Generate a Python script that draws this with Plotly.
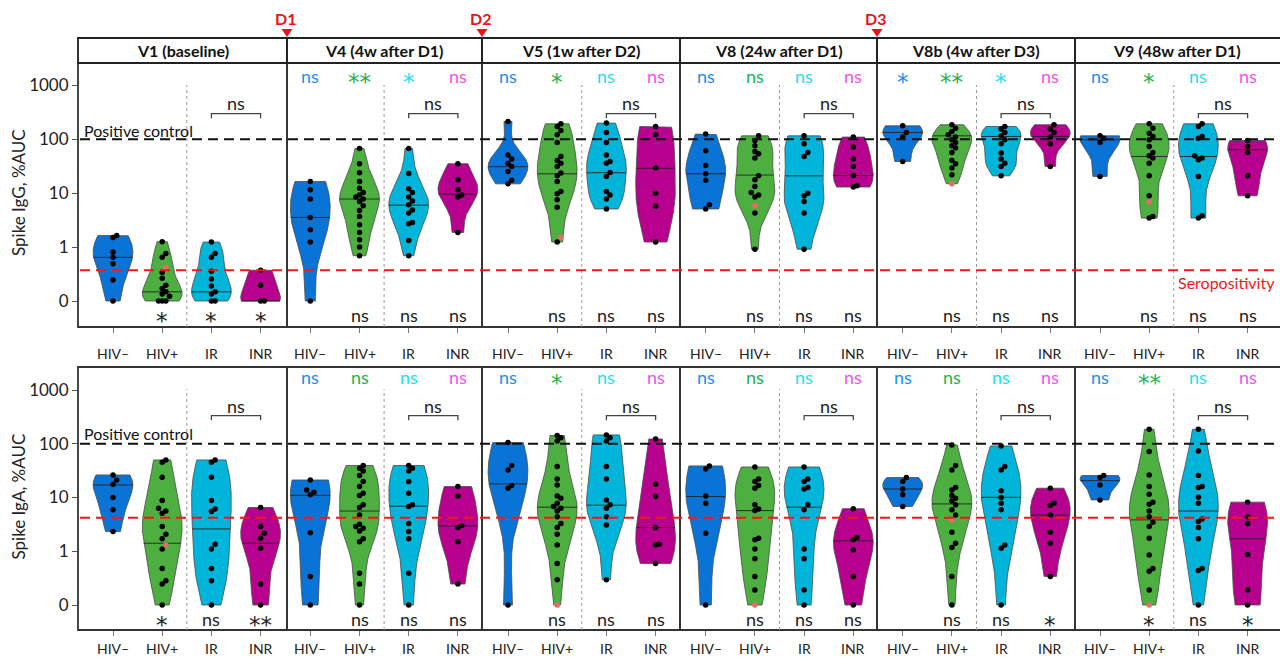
import numpy as np
import plotly.graph_objects as go

W, H = 1280, 657
FONT = "Lato, 'Open Sans', sans-serif"
STAR_FONT = "'DejaVu Sans', sans-serif"

# ---------------- data ----------------
visits = ["V1 (baseline)", "V4 (4w after D1)", "V5 (1w after D2)",
          "V8 (24w after D1)", "V8b (4w after D3)", "V9 (48w after D1)"]
groups = ["HIV–", "HIV+", "IR", "INR"]
doses = ["D1", "D2", "D3"]
dose_before_visit = [1, 2, 4]
assays = ["Spike IgG, %AUC", "Spike IgA, %AUC"]

igg_hiv_neg = [[1.65, 1.51, 0.91, 0.81, 0.69, 0.39, 0],
               [16.5, 11.6, 7.8, 3.55, 2.1, 1.24, 0],
               [214, 51, 43, 36, 31.4, 25.3, 17.3, 14.9],
               [125, 61, 32.7, 22.9, 17.3, 6.1, 5.1],
               [178, 134, 110, 38.9],
               [116, 105, 87.5, 20.5]]
igg_hiv_pos = [[1.26, 0.88, 0.81, 0.53, 0.42, 0.29, 0.23, 0.17, 0.13, 0.09, 0, 0, 0],
               [67.8, 35.2, 24, 16.5, 12.4, 10.3, 9.3, 8.5, 7.8, 7.0, 5.85, 4.8, 3.7, 2.6, 1.87, 1.37, 1.0, 0.84],
               [194, 173, 146, 121, 87.5, 48, 40.5, 36, 31.4, 23.6, 21, 16.5, 10.8, 9.8, 7.55, 5.5, 1.24],
               [116, 95, 76, 59.6, 54, 44.8, 21, 17.7, 13.3, 10.3, 9.3, 8.5, 4.3, 0.96],
               [186, 161, 140, 121, 110, 98, 87.5, 76, 68.7, 57, 40.5, 35.2, 29.2, 22],
               [194, 161, 130, 113, 98, 73.8, 57, 49.5, 44.8, 36, 21, 8.96, 3.7, 3.45]]
igg_ir = [[1.24, 0.88, 0.81, 0.55, 0.41, 0.28, 0.17, 0.13, 0, 0],
          [67.8, 23.3, 12.1, 10.3, 8.5, 7.2, 6.1, 4.9, 4.3, 2.87, 2.7, 1.33, 0.84],
          [200, 134, 87.5, 51, 38.9, 36, 24.3, 20.5, 10.8, 9.3, 7.8, 5.1],
          [116, 82.6, 57, 48, 10, 8.96, 7.0, 4.3, 0.96],
          [173, 155, 134, 116, 98, 82.6, 55.5, 43, 36, 31.4, 21],
          [194, 173, 113, 105, 49.5, 44.8, 41.7, 20.5, 3.8, 3.45]]
igg_inr = [[0.57, 0.29, 0, 0],
           [35.2, 17.8, 11.6, 9.3, 8.5, 1.87],
           [173, 121, 29.2, 10, 5.7, 1.24],
           [110, 71.7, 43, 31.4, 21.3, 13.7, 13],
           [186, 155, 134, 110, 82.6, 31.4],
           [95, 73.8, 57, 21, 8.96]]
igg_highlight = [0.62, None, 1.53, 5.85, 15, 6.9]   # red-marked HIV+ point
igg_median = [[0.81, 0.17, 0.17, 0], [3.55, 7.8, 6.0, 9.6], [31, 22.9, 24, 29],
              [22.9, 21.7, 21, 21.3], [134, 116, 113, 113], [98, 48, 48, 64]]

iga_hiv_neg = [[26.3, 21.2, 17.6, 10, 5.9, 2.32],
               [21.2, 13.8, 12.5, 11.2, 2.22, 0.53, 0],
               [105, 39.3, 32.6, 16.7, 14.9, 0],
               [38.7, 34, 10.7, 7.8, 2.16, 0],
               [23.5, 19.8, 14.4, 11.2, 6.8],
               [25.6, 23.5, 17.1, 9.0]]
iga_hiv_pos = [[50, 45.3, 23.8, 8.8, 6.3, 5.6, 5.1, 2.88, 2.07, 1.7, 1.1, 0.68, 0.45, 0.39, 0],
               [39.3, 35, 31.2, 25.6, 19.8, 16, 12, 10.9, 7.3, 6.5, 4.7, 3.18, 2.88, 2.68, 2.39, 1.7, 1.51, 0.59, 0.39, 0],
               [142, 130, 113, 37.6, 22.2, 17.1, 10.7, 9.7, 7.8, 6.8, 6.3, 5.6, 4.4, 3.3, 2.76, 2.07, 1.31, 0.77, 0.47],
               [37, 22.2, 19.8, 16.7, 14.9, 7.3, 6.1, 5.7, 1.75, 1.63, 1.1, 0.86, 0.53, 0.28],
               [95, 39.3, 32.6, 15.3, 13.8, 10.9, 9.7, 8.6, 7.3, 5.9, 4.7, 2.26, 1.41, 1.17, 0.53, 0],
               [186, 71.5, 26.3, 16, 11.5, 8.2, 7.5, 5.6, 4.4, 3.46, 2.88, 1.75, 0.93, 0.68, 0.63, 0.28]]
iga_ir = [[50, 45.3, 23.8, 8.8, 6.1, 5.5, 1.35, 1.1, 0.68, 0.45, 0],
          [39.3, 35, 31.2, 19.8, 12, 7.3, 6.8, 3.3, 2.32, 1.7, 0.59, 0],
          [146, 130, 113, 37.6, 22.2, 9.0, 7.3, 6.3, 4.4, 3.09, 0.47],
          [37, 22.2, 19.8, 15.3, 14.4, 7.3, 5.9, 1.1, 0.86, 0.28, 0],
          [91, 37.6, 32.6, 13.3, 10, 7.8, 5.9, 1.31, 1.14, 0],
          [186, 73.6, 25.6, 16, 15.3, 10.1, 7.8, 4.0, 3.56, 2.76, 1.7, 0.68, 0.64, 0]]
iga_inr = [[6.5, 2.88, 2.16, 1.75, 1.14, 0.39, 0],
           [16, 10.7, 3.0, 2.76, 1.51, 0.39],
           [123, 17.6, 10.4, 2.76, 1.35, 1.31, 0.77],
           [6.2, 1.8, 1.63, 1.06, 0.53, 0],
           [14.9, 7.8, 7.1, 4.7, 2.26, 1.41, 0.53],
           [8.2, 4.4, 3.3, 0.94, 0.28, 0]]
iga_highlight = [1.31, None, 0, 0, 3.83, 0]
iga_median = [[17.1, 1.41, 2.6, 1.41], [11, 5.6, 6.9, 2.96], [17.9, 6.6, 7.2, 2.76],
              [10.4, 5.7, 6.6, 1.56], [14.4, 7.6, 10.1, 4.7], [20.6, 3.83, 5.6, 1.7]]

igg_sig_top = [["", "", "", ""], ["ns", "**", "*", "ns"], ["ns", "*", "ns", "ns"],
               ["ns", "ns", "ns", "ns"], ["*", "**", "*", "ns"], ["ns", "*", "ns", "ns"]]
iga_sig_top = [["", "", "", ""], ["ns", "ns", "ns", "ns"], ["ns", "*", "ns", "ns"],
               ["ns", "ns", "ns", "ns"], ["ns", "ns", "ns", "ns"], ["ns", "**", "ns", "ns"]]
igg_sig_bottom = [["", "*", "*", "*"], ["", "ns", "ns", "ns"], ["", "ns", "ns", "ns"],
                  ["", "ns", "ns", "ns"], ["", "ns", "ns", "ns"], ["", "ns", "ns", "ns"]]
iga_sig_bottom = [["", "*", "ns", "**"], ["", "ns", "ns", "ns"], ["", "ns", "ns", "ns"],
                  ["", "ns", "ns", "ns"], ["", "ns", "ns", "*"], ["", "*", "ns", "*"]]
ir_vs_inr = ["ns"] * 6

positive_control = 100
seropositivity = [0.57, 4.2]

# ---------------- styling / geometry ----------------
fill_colors = ["#0a74d6", "#4caf3f", "#00b5d9", "#b8008f"]
text_colors = ["#1a8ff0", "#1db34f", "#22e0f2", "#f052ef"]
panel_px = [(78, 287), (287, 482), (482, 680), (680, 877), (877, 1075), (1075, 1290)]
first_cat_px = [113, 310.3, 508, 705.7, 902.7, 1100]
step_px = 49.2
rows = [dict(top=63, bottom=327, zero=301, dec=53.9, lab=353, sig=76, sigb=315,
             sep_top=85, br=113.7, brl=103, pc=130, head=(38, 63)),
        dict(top=367, bottom=630, zero=605, dec=53.75, lab=648, sig=377, sigb=619,
             sep_top=389, br=415.7, brl=406, pc=433, head=None)]
HALFW = 0.405
BW_ADJUST = 0.85


def tf(v):
    v = np.asarray(v, dtype=float)
    return np.where(v < 1, v - 1, np.log10(np.clip(v, 1, None)))


def px(p):
    return p / W


def py(p):
    return 1 - p / H


def kde(t, grid):
    n = len(t)
    sd = t.std(ddof=1) if n > 1 else 0.5
    if sd <= 0:
        sd = 0.3
    bw = BW_ADJUST * 1.06 * sd * n ** -0.2
    g = np.atleast_1d(grid)
    return np.exp(-0.5 * ((g[:, None] - t[None, :]) / bw) ** 2).sum(1)


def swarm(t, d=0.095, step=0.075):
    order = np.argsort(t, kind="stable")
    placed = []
    xs = np.zeros(len(t))
    for idx in order:
        for cand in [0, step, -step, 2 * step, -2 * step, 3 * step]:
            ok = all(abs(pt - t[idx]) > d or abs(pxx - cand) > step * 0.9 for pt, pxx in placed)
            if ok:
                xs[idx] = cand
                break
        placed.append((t[idx], xs[idx]))
    return xs


all_data = [
    ([igg_hiv_neg, igg_hiv_pos, igg_ir, igg_inr], igg_highlight, igg_median, igg_sig_top, igg_sig_bottom),
    ([iga_hiv_neg, iga_hiv_pos, iga_ir, iga_inr], iga_highlight, iga_median, iga_sig_top, iga_sig_bottom),
]

fig = go.Figure()
layout = dict(width=W, height=H, margin=dict(l=0, r=0, t=0, b=0), showlegend=False,
              plot_bgcolor="white", paper_bgcolor="white", font=dict(family=FONT, color="#222"))
shapes = []
ann = []


def A(text, x, y, xref="paper", yref="paper", size=14, color="#222", xanchor="center",
      yanchor="middle", family=FONT, **kw):
    ann.append(dict(text=text, x=x, y=y, xref=xref, yref=yref, showarrow=False,
                    xanchor=xanchor, yanchor=yanchor,
                    font=dict(size=size, color=color, family=family), **kw))


def sig_text(text, x, y, xref, color):
    if text and text.strip("*") == "":
        A(text, x, y, xref=xref, size=23, color=color, yshift=-6, family=STAR_FONT)
    elif text:
        A(text, x, y, xref=xref, size=18, color=color)


for r, (gdata, highlight, medians, sig_top, sig_bot) in enumerate(all_data):
    R = rows[r]
    yname = "y" if r == 0 else "y2"
    ylo = -1 - (R["bottom"] - R["zero"]) / R["dec"]
    yhi = -1 + (R["zero"] - R["top"]) / R["dec"]
    ykey = "yaxis" if r == 0 else "yaxis2"
    layout[ykey] = dict(domain=[py(R["bottom"]), py(R["top"])], range=[ylo, yhi],
                        anchor="x" if r == 0 else "x7", tickvals=[-1, 0, 1, 2, 3],
                        ticktext=["0", "1", "10", "100", "1000"], ticks="outside", ticklen=5,
                        tickcolor="#555", tickfont=dict(size=17, color="#222", family=FONT),
                        showgrid=False, zeroline=False, showline=False)
    A(assays[r], px(18), py((R["top"] + R["bottom"]) / 2 - 2), size=17, textangle=-90)

    for k in range(6):
        i = r * 6 + k + 1
        xname = "x" if i == 1 else f"x{i}"
        xkey = "xaxis" if i == 1 else f"xaxis{i}"
        x0p, x1p = panel_px[k]
        x1c = min(x1p, W)
        f = first_cat_px[k]
        layout[xkey] = dict(domain=[px(x0p), px(x1c)],
                            range=[(x0p - f) / step_px, (x1c - f) / step_px],
                            anchor=yname, tickvals=[0, 1, 2, 3], showticklabels=False,
                            ticks="outside", ticklen=5, tickcolor="#777",
                            showgrid=False, zeroline=False, showline=False, fixedrange=True)
        # panel border
        shapes.append(dict(type="rect", xref="paper", yref="paper", x0=px(x0p), x1=px(x1p),
                           y0=py(R["bottom"]), y1=py(R["top"]), line=dict(color="#333", width=1.8),
                           layer="above"))
        if R["head"]:
            shapes.append(dict(type="rect", xref="paper", yref="paper", x0=px(x0p), x1=px(x1p),
                               y0=py(R["head"][1]), y1=py(R["head"][0]),
                               line=dict(color="#222", width=1.8)))
            cx = (x0p + x1p) / 2 if k < 5 else 1177
            A("<b>" + visits[k] + "</b>", px(cx), py(50.5), size=16, color="#111")
        # dotted separator
        shapes.append(dict(type="line", xref=xname, yref="paper", x0=1.5, x1=1.5,
                           y0=py(R["bottom"]), y1=py(R["sep_top"]),
                           line=dict(color="#999", width=1, dash="dot")))
        # bracket IR vs INR
        shapes.append(dict(type="path", xref=xname, yref="paper",
                           path=f"M 2,{py(R['br'] + 4.5)} L 2,{py(R['br'])} L 3,{py(R['br'])} L 3,{py(R['br'] + 4.5)}",
                           line=dict(color="#444", width=1.3)))
        A(ir_vs_inr[k], 2.5, py(R["brl"]), xref=xname, size=18)

        for g in range(4):
            vals = list(gdata[g][k])
            hl_idx = None
            if g == 1 and highlight[k] is not None:
                vals.append(highlight[k])
                hl_idx = len(vals) - 1
            t = tf(vals)
            grid = np.linspace(t.min(), t.max(), 160)
            d = kde(t, grid)
            dmax = d.max()
            w = HALFW * d / dmax
            xs = np.concatenate([g - w, (g + w)[::-1], [g - w[0]]])
            ys = np.concatenate([grid, grid[::-1], [grid[0]]])
            fig.add_trace(go.Scatter(x=xs, y=ys, xaxis=xname, yaxis=yname, mode="lines",
                                     fill="toself", fillcolor=fill_colors[g],
                                     line=dict(color="#4a4a4a", width=0.8), hoverinfo="skip"))
            tm = float(tf([medians[k][g]])[0])
            tm = min(max(tm, t.min()), t.max())
            wm = HALFW * kde(t, tm)[0] / dmax
            fig.add_trace(go.Scatter(x=[g - wm, g + wm], y=[tm, tm], xaxis=xname, yaxis=yname,
                                     mode="lines", line=dict(color="#222", width=0.9),
                                     hoverinfo="skip"))
            off = swarm(t)
            cols = ["#000000"] * len(t)
            if hl_idx is not None:
                cols[hl_idx] = "#e86a6a"
            fig.add_trace(go.Scatter(x=g + off, y=t, xaxis=xname, yaxis=yname, mode="markers",
                                     marker=dict(color=cols, size=5.5, line=dict(width=0)),
                                     hoverinfo="skip"))
            # labels
            A(groups[g], g, py(R["lab"]), xref=xname, size=14, color="#222")
            sig_text(sig_top[k][g], g, py(R["sig"]), xname, text_colors[g])
            sig_text(sig_bot[k][g], g, py(R["sigb"]), xname, "#222")

    # reference lines
    tp = float(tf([positive_control])[0])
    shapes.append(dict(type="line", xref="paper", yref=yname, x0=px(80), x1=1.0, y0=tp, y1=tp,
                       line=dict(color="#111", width=2, dash="10px,6px"), layer="above"))
    ts = float(tf([seropositivity[r]])[0])
    shapes.append(dict(type="line", xref="paper", yref=yname, x0=px(80), x1=1.0, y0=ts, y1=ts,
                       line=dict(color="#f01818", width=2, dash="10px,6px"), layer="above"))
    A("Positive control", px(82), py(R["pc"]), size=16, color="#111", xanchor="left")

A("Seropositivity", px(1277), py(282), size=16, color="#f01818", xanchor="right")

# dose markers
for j, dname in enumerate(doses):
    xb = panel_px[dose_before_visit[j]][0]
    A("<b>" + dname + "</b>", px(xb - 2), py(18), size=16, color="#e8141c")
    shapes.append(dict(type="path", xref="paper", yref="paper",
                       path=f"M {px(xb - 5.5)},{py(29)} L {px(xb + 5.5)},{py(29)} L {px(xb)},{py(37)} Z",
                       fillcolor="#e8141c", line=dict(color="#e8141c", width=0)))

layout["shapes"] = shapes
layout["annotations"] = ann
fig.update_layout(**layout)
fig.write_html("out.html")
